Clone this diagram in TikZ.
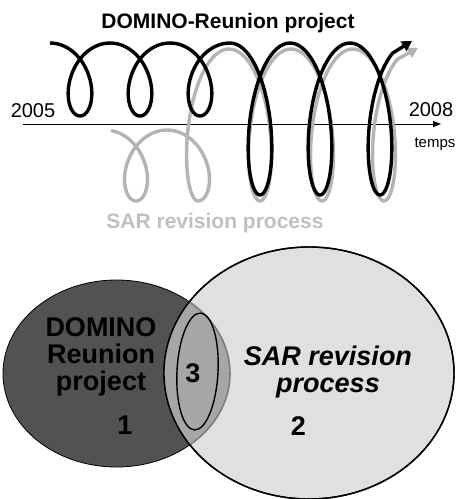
\documentclass[tikz,border=0pt]{standalone}
\usepackage{fontspec}
\setmainfont{Liberation Sans}
\usetikzlibrary{arrows.meta, positioning}

\definecolor{coilgray}{RGB}{180,180,180}
\definecolor{fadetext}{RGB}{192,192,192}
\definecolor{darkset}{RGB}{82,82,82}
\definecolor{lightset}{RGB}{224,224,224}
\definecolor{midset}{RGB}{166,166,166}
\definecolor{rimgray}{RGB}{125,125,125}

\begin{document}
\begin{tikzpicture}[x=1pt, y=-1pt,
    coil/.style={line width=3.4pt, line join=round},
    coiltip/.style={-{Triangle[length=10pt, width=11pt]}},
    timeline/.style={draw, line width=0.9pt, -{Triangle[length=8pt, width=6pt]}},
    yearlbl/.style={font=\fontsize{20}{22}\selectfont, inner sep=0pt},
    headline/.style={font=\fontsize{21}{23}\selectfont\bfseries, inner sep=0pt},
    venn/.style={font=\fontsize{27}{27}\selectfont\bfseries, align=center, inner sep=0pt},
    rim/.style={draw=black, line width=1.4pt}
]
    \useasboundingbox (0,0) rectangle (459,499);

    % Time axis
    \coordinate (t0) at (23,124);
    \coordinate (t1) at (441,124);
    \draw [timeline] (t0) -- (t1);
    \node [yearlbl, anchor=base] (y2005) at (33,117) {2005};
    \node [yearlbl, anchor=base] (y2008) at (431,116) {2008};
    \node [font=\fontsize{15}{17}\selectfont, inner sep=0pt, anchor=base] (temps) at (435,147) {temps};

    % Coil ends
    \coordinate (sarEnd) at (418,48);
    \coordinate (projEnd) at (412,41);

    % SAR revision coil (grey)
    \draw [coil, coiltip, draw=coilgray]
        plot [domain=10:540, samples=90, variable=\t] ({105+(\t/360)*62+25*sin(\t)}, {165.5-35.5*cos(\t)})
        -- plot [domain=540:1770, samples=220, variable=\t] ({105+(\t/360)*62+25*sin(\t)}, {125-76*cos(\t)})
        -- (sarEnd);

    % DOMINO-Reunion coil (black)
    \draw [coil, coiltip, draw=black]
        plot [domain=0:1080, samples=180, variable=\t] ({50+\t/6+25*sin(\t)}, {79.5-36.5*cos(\t)})
        -- plot [domain=1080:2130, samples=200, variable=\t] ({50+\t/6+25*sin(\t)}, {119-76*cos(\t)})
        -- (projEnd);

    \node [headline, anchor=base] (projTitle) at (228,28) {DOMINO-Reunion project};
    \node [headline, text=fadetext, anchor=base] (sarTitle) at (215,228) {SAR revision process};

    % Venn diagram
    \filldraw [fill=darkset, draw=black, line width=0.8pt] (116.5,373.5) ellipse [x radius=113.5, y radius=93.5];
    \filldraw [fill=lightset, rim] (309,373) ellipse [x radius=145, y radius=126];
    \begin{scope}
        \clip (309,373) ellipse [x radius=145, y radius=126];
        \filldraw [fill=midset, draw=rimgray, line width=1.6pt] (116.5,373.5) ellipse [x radius=113.5, y radius=93.5];
    \end{scope}
    \draw [rim] (309,373) ellipse [x radius=145, y radius=126];
    \draw [rim] (197.5,371.5) ellipse [x radius=20.5, y radius=58.5, rotate=-3];

    \node [venn] (domino) at (101,357.2) {DOMINO\\Reunion\\project};
    \node [venn] (one) at (125,425) {1};
    \node [venn, font=\fontsize{27}{27}\selectfont\bfseries\itshape] (sarSet) at (328,371.6) {SAR revision\\process};
    \node [venn] (two) at (298.5,426) {2};
    \node [venn] (three) at (193,373) {3};
\end{tikzpicture}
\end{document}
